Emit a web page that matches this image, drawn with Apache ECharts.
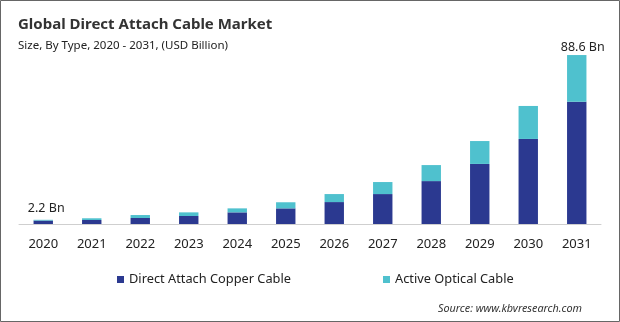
<!DOCTYPE html>
<html>
<head>
<meta charset="utf-8">
<script src="https://cdn.jsdelivr.net/npm/echarts@6/dist/echarts.min.js"></script>
<style>
html,body{margin:0;padding:0;background:#fff;}
#c{width:620px;height:322px;}
</style>
</head>
<body>
<div id="c"></div>
<script>
const categories = ['2020','2021','2022','2023','2024','2025','2026','2027','2028','2029','2030','2031'];
const copperValues = [1.8, 2.1, 3.15, 4.2, 6.1, 8.2, 11.5, 15.7, 22.5, 31.5, 44.6, 64.1];
const opticalValues = [0.4, 0.9, 1.55, 1.9, 2.1, 3.2, 4.2, 6.3, 8.4, 12.0, 17.3, 24.5];
const totalLabels = ['2.2 Bn', '', '', '', '', '', '', '', '', '', '', '88.6 Bn'];
const seriesNames = ['Direct Attach Copper Cable', 'Active Optical Cable'];

const chart = echarts.init(document.getElementById('c'), null, {renderer: 'canvas'});
const FONT = 'Noto Sans';
const labelOffsets = {0: [3, 0], 11: [6, 4]};

const opticalData = opticalValues.map((v, i) => {
  const item = {value: v};
  if (totalLabels[i]) {
    item.label = {show: true, position: 'top', formatter: totalLabels[i], offset: labelOffsets[i] || [0, 0],
      color: '#222', fontSize: 12.5, fontFamily: FONT};
  }
  return item;
});

chart.setOption({
  animation: false,
  title: [
    {text: 'Global Direct Attach Cable Market', left: 13, top: 12,
     textStyle: {fontFamily: FONT, fontWeight: 'bold', fontSize: 15, color: '#333'}},
    {text: 'Size, By Type, 2020 - 2031, (USD Billion)', left: 13, top: 35,
     textStyle: {fontFamily: FONT, fontWeight: 'normal', fontSize: 11.5, color: '#222'}},
    {text: 'Source: www.kbvresearch.com', left: 433, top: 298,
     textStyle: {fontFamily: FONT, fontWeight: 'normal', fontStyle: 'italic', fontSize: 10.8, color: '#333'}}
  ],
  legend: [
    {data: [seriesNames[0]], left: 112, top: 268, icon: 'rect', itemWidth: 7, itemHeight: 7, itemGap: 5,
     textStyle: {fontFamily: FONT, fontSize: 12.8, color: '#222'}},
    {data: [seriesNames[1]], left: 378, top: 268, icon: 'rect', itemWidth: 7, itemHeight: 7, itemGap: 5,
     textStyle: {fontFamily: FONT, fontSize: 12.8, color: '#222'}}
  ],
  grid: {left: 19, right: 19, top: 33.3, bottom: 98, containLabel: false},
  xAxis: {
    type: 'category', data: categories,
    axisLine: {show: true, lineStyle: {color: '#cfcfcf', width: 1}},
    axisTick: {show: false},
    axisLabel: {fontFamily: FONT, fontSize: 13, color: '#222', margin: 14}
  },
  yAxis: {type: 'value', min: 0, max: 100, show: false, splitLine: {show: false}},
  series: [
    {name: seriesNames[0], type: 'bar', stack: 't', barWidth: '40%', data: copperValues,
     itemStyle: {color: '#2b3990'}},
    {name: seriesNames[1], type: 'bar', stack: 't', barWidth: '40%', data: opticalData,
     itemStyle: {color: '#4fc1ce'}}
  ],
  graphic: [
    {type: 'rect', shape: {x: 0.5, y: 0.5, width: 619, height: 321},
     style: {fill: null, stroke: '#666', lineWidth: 1}, silent: true, z: 100}
  ]
});
</script>
</body>
</html>
